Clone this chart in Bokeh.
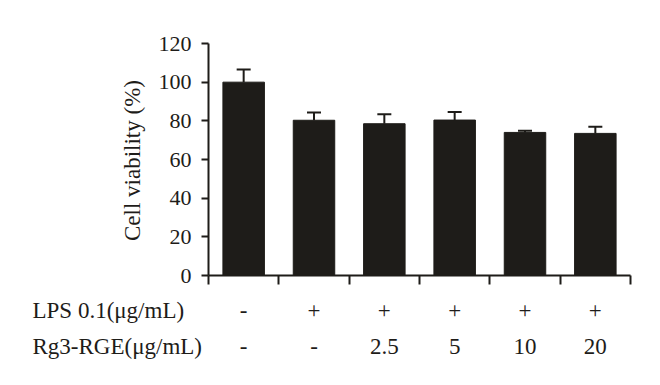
import math
from bokeh.plotting import figure
from bokeh.models import ColumnDataSource, FixedTicker, Range1d, LinearAxis, Whisker, TeeHead
from bokeh.core.properties import value
from bokeh.embed import file_html
from bokeh.resources import INLINE

# ---- data ----
lps = ["-", "+", "+", "+", "+", "+"]
rg3 = ["-", "-", "2.5", "5", "10", "20"]
viability = [100, 80.3, 78.5, 80.4, 74.0, 73.5]
errors = [6.6, 4.0, 4.9, 4.2, 0.9, 3.4]
y_ticks = [0, 20, 40, 60, 80, 100, 120]
row_titles = ["LPS 0.1(\u03bcg/mL)", "Rg3-RGE(\u03bcg/mL)"]
y_title = "Cell viability (%)"

FONT = "Liberation Serif"
INK = "#1e1c19"

W, H = 652, 377
n = len(viability)
# geometry of the bar area in pixels
left_px, right_px, top_px, bottom_px = 208, 630, 43, 275
ux = (right_px - left_px) / n          # px per category
uy = (bottom_px - top_px) / 120.0      # px per percent

xr = Range1d(-left_px / ux, n + (W - right_px) / ux)
yr = Range1d(-(H - bottom_px) / uy, 120 + top_px / uy)

xs = [i + 0.5 for i in range(n)]
src = ColumnDataSource(dict(
    x=xs, top=viability, upper=[v + e for v, e in zip(viability, errors)],
    lps=lps, rg3=rg3))

p = figure(width=W, height=H, output_backend="svg", toolbar_location=None,
           x_range=xr, y_range=yr, x_axis_location=None, y_axis_location=None,
           min_border=0)
p.outline_line_color = None
p.grid.visible = False

p.vbar(x="x", top="top", width=0.59, bottom=0, source=src,
       fill_color=INK, line_color=INK, line_width=1)

w = Whisker(base="x", lower="top", upper="upper", source=src,
            line_color=INK, line_width=2,
            upper_head=TeeHead(size=14, line_color=INK, line_width=2),
            lower_head=None)
p.add_layout(w)

ya = LinearAxis(fixed_location=0, bounds=(0, 120), ticker=FixedTicker(ticks=y_ticks))
ya.minor_tick_line_color = None
ya.major_tick_in = 0
ya.major_tick_out = 7
ya.axis_line_width = 2
ya.major_tick_line_width = 2
ya.axis_line_color = INK
ya.major_tick_line_color = INK
ya.major_label_text_font = FONT
ya.major_label_text_font_size = "22px"
ya.major_label_text_color = INK
ya.major_label_standoff = 10
p.add_layout(ya, "left")

xa = LinearAxis(fixed_location=0, bounds=(0, n), ticker=FixedTicker(ticks=list(range(n + 1))))
xa.minor_tick_line_color = None
xa.major_tick_in = 0
xa.major_tick_out = 9
xa.axis_line_width = 2
xa.major_tick_line_width = 2
xa.axis_line_color = INK
xa.major_tick_line_color = INK
xa.major_label_overrides = {i: "" for i in range(n + 1)}
p.add_layout(xa, "below")

row1_y = -(310 - bottom_px) / uy
row2_y = -(346 - bottom_px) / uy

p.text(x="x", y=row1_y, text="lps", source=src, text_align="center",
       text_baseline="alphabetic", text_font=value(FONT),
       text_font_size="23px", text_color=INK)
p.text(x="x", y=row2_y, text="rg3", source=src, text_align="center",
       text_baseline="alphabetic", text_font=value(FONT),
       text_font_size="23px", text_color=INK)

title_x = (32 - left_px) / ux
p.text(x=[title_x, title_x], y=[row1_y, row2_y], text=row_titles,
       text_align="left", text_baseline="alphabetic", text_font=value(FONT),
       text_font_size="23px", text_color=INK)

p.text(x=[(132 - left_px) / ux], y=[(bottom_px - 160) / uy], text=[y_title],
       angle=math.pi / 2, text_align="center", text_baseline="middle",
       text_font=value(FONT), text_font_size="23px", text_color=INK)

open("out.html", "w").write(file_html(p, INLINE))
